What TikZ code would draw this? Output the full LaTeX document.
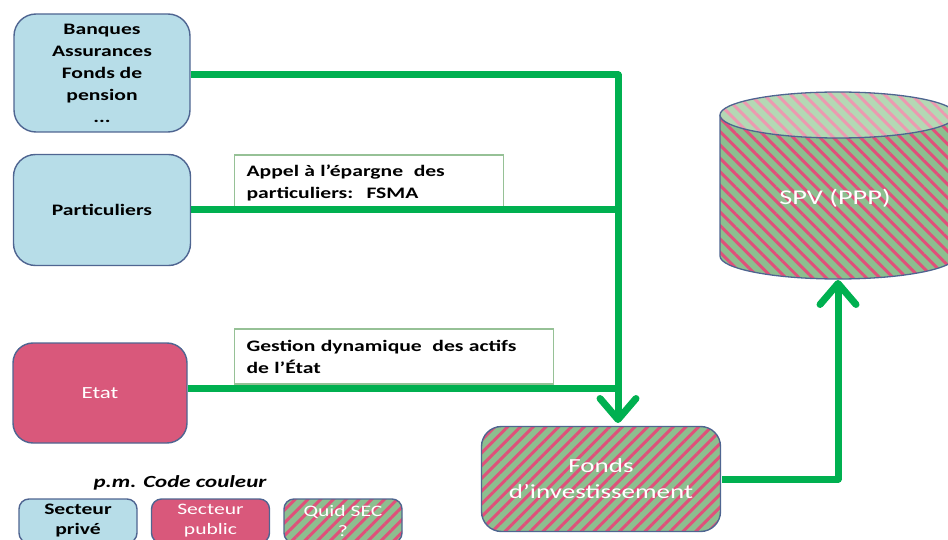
\documentclass[tikz,border=0pt]{standalone}
\usepackage{fontspec}
\setmainfont{Carlito}[FakeStretch=1.35]
\usetikzlibrary{arrows.meta,patterns.meta}

\definecolor{privfill}{HTML}{B7DDE8}
\definecolor{pubfill}{HTML}{D9587B}
\definecolor{bord}{HTML}{4F6591}
\definecolor{flowgreen}{HTML}{00B050}
\definecolor{taggreen}{HTML}{96C196}
\definecolor{stripegreen}{HTML}{8DBE8F}
\definecolor{stripepink}{HTML}{E0507A}
\definecolor{topgreen}{HTML}{B4D8B4}
\definecolor{toppink}{HTML}{EC9AB0}

\newcommand\darkfont{\fontsize{16}{22}\selectfont\bfseries\color{black}}
\newcommand\lightfont{\fontsize{17}{22}\selectfont\color{white}}

\tikzset{
  box/.style={draw=bord, line width=1.4pt, rounded corners=22pt, inner sep=0pt, align=center},
  privbox/.style={box, fill=privfill, font=\darkfont},
  pubbox/.style={box, fill=pubfill, font=\lightfont},
  mixbox/.style={box, font=\lightfont,
    preaction={fill=stripegreen},
    pattern={Lines[angle=45, distance=9pt, line width=3pt]},
    pattern color=stripepink},
  legbox/.style={rounded corners=10pt, minimum width=118pt, minimum height=44pt},
  tagbox/.style={draw=taggreen, line width=1.2pt, fill=white, inner xsep=12pt,
    inner ysep=0pt, align=left, font=\darkfont, anchor=west},
  flow/.style={draw=flowgreen, line width=7pt, line join=round},
  flowtip/.style={-{Straight Barb[length=21pt, width=36pt, line cap=round, line join=round]}},
}

\begin{document}
\begin{tikzpicture}[x=1pt, y=-1pt]
\useasboundingbox (0,0) rectangle (948,540);
\clip (0,0) rectangle (948,540);

% sources of funds
\node[privbox, minimum width=176pt, minimum height=118pt] (banq) at (102,73)
  {Banques\\Assurances\\Fonds de\\pension\\...};
\node[privbox, minimum width=177pt, minimum height=111pt] (part) at (102,210)
  {Particuliers};
\node[pubbox, minimum width=174pt, minimum height=100pt, rounded corners=20pt] (etat) at (100,393)
  {Etat};

% investment fund
\node[mixbox, minimum width=239pt, minimum height=105pt, rounded corners=20pt,
  font=\fontsize{20}{26}\selectfont\color{white}] (fonds) at (601,479)
  {Fonds\\d’investissement};

% annotations on the flows
\node[tagbox, minimum width=269pt, minimum height=56pt, text width=245pt] (tag1) at (234,183)
  {Appel à l’épargne~ des\\particuliers:~ FSMA};
\node[tagbox, minimum width=319pt, minimum height=55pt, text width=295pt] (tag2) at (234,356.5)
  {Gestion dynamique~ des actifs\\de l’État};

% SPV cylinder
\path[preaction={fill=stripegreen},
  pattern={Lines[angle=-45, distance=9.5pt, line width=3pt]}, pattern color=stripepink]
  (720,115) -- (720,256) .. controls (720,268.7) and (772.8,279) .. (838,279)
  .. controls (903.2,279) and (956,268.7) .. (956,256) -- (956,115) -- cycle;
\draw[bord, line width=1.3pt]
  (720,115) -- (720,256) .. controls (720,268.7) and (772.8,279) .. (838,279)
  .. controls (903.2,279) and (956,268.7) .. (956,256) -- (956,115);
\draw[bord, line width=1.3pt, preaction={fill=topgreen},
  pattern={Lines[angle=-45, distance=9.5pt, line width=3pt]}, pattern color=toppink]
  (838,115) ellipse [x radius=118, y radius=23];
\node[font=\fontsize{21}{24}\selectfont\color{white}] (spv) at (835,198) {SPV (PPP)};
\coordinate (spvbase) at (838,280);

% flows
\coordinate (drop) at (618,423);
\draw[flow, flowtip] ([yshift=-2pt]banq.east) -| (drop);
\draw[flow] (part.east) -- (part.east -| drop);
\draw[flow] ([yshift=5pt]etat.east) -- ([yshift=5pt]etat.east -| drop);
\draw[flow, flowtip] (fonds.east) -| (spvbase);

% colour code legend
\node[font=\fontsize{17}{20}\selectfont\bfseries\itshape] (legtitle) at (180,483) {p.m. Code couleur};
\node[privbox, legbox, font=\fontsize{16}{20}\selectfont\bfseries] (legpriv) at (78,521) {Secteur\\privé};
\node[pubbox, legbox, font=\fontsize{16}{20}\selectfont\color{white}] (legpub) at (210.5,521) {Secteur\\public};
\node[mixbox, legbox, font=\fontsize{16}{20}\selectfont\color{white}] (legmix) at (343,521) {Quid SEC\\?};
\end{tikzpicture}
\end{document}
